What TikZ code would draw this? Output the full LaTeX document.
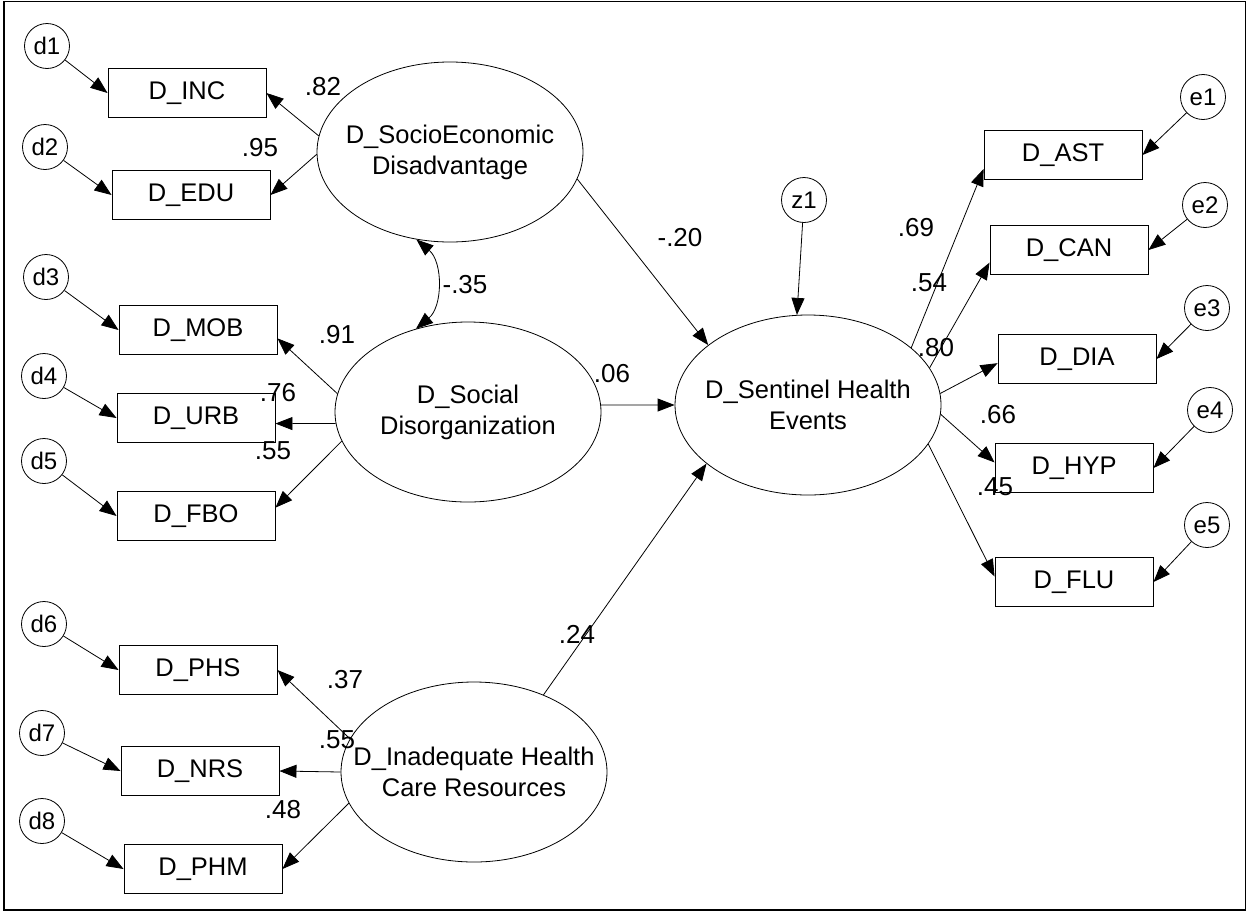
\documentclass[tikz,border=0pt]{standalone}
\usepackage{fontspec}
\setsansfont{Liberation Sans}
\usetikzlibrary{arrows.meta,shapes.geometric}
\begin{document}
\begin{tikzpicture}[
  x=1pt, y=-1pt,
  obs/.style={rectangle, draw, line width=0.9pt, minimum width=158pt, minimum height=49pt, inner sep=0pt},
  latent/.style={ellipse, draw, line width=0.8pt, minimum width=266pt, minimum height=180pt, inner sep=0pt},
  err/.style={circle, draw, line width=0.8pt, minimum size=45pt, inner sep=0pt, font=\sffamily\fontsize{24}{28}\selectfont},
  coef/.style={inner sep=0pt, font=\sffamily\fontsize{26}{30}\selectfont},
  link/.style={-{Triangle[length=17pt,width=13pt]}, line width=0.8pt},
  cov/.style={{Triangle[length=17pt,width=13pt]}-{Triangle[length=17pt,width=13pt]}, line width=0.8pt},
  font=\sffamily\fontsize{25.5}{31}\selectfont
]
\useasboundingbox (0,0) rectangle (1249,913);
\draw[line width=1.5pt] (4,1.5) rectangle (1245.5,910);

\node[latent] (socio) at (450,152) {};
\node[align=center] (sociotext) at (socio) {D\_SocioEconomic\\Disadvantage};
\node[latent] (social) at (468,412) {};
\node[align=center] (socialtext) at (social) {D\_Social\\Disorganization};
\node[latent] (inad) at (474,772) {};
\node[align=center] (inadtext) at (inad) {D\_Inadequate Health\\Care Resources};
\node[latent] (sent) at (808,405) {};
\node[align=center] (senttext) at (sent) {D\_Sentinel Health\\Events};

\node[obs] (inc) at (187,93) {D\_INC};
\node[obs] (edu) at (191,195) {D\_EDU};
\node[obs] (mob) at (198,330) {D\_MOB};
\node[obs] (urb) at (196,418) {D\_URB};
\node[obs] (fbo) at (196,516) {D\_FBO};
\node[obs] (phs) at (198,670) {D\_PHS};
\node[obs] (nrs) at (200,771) {D\_NRS};
\node[obs] (phm) at (203,869) {D\_PHM};

\node[obs] (ast) at (1063,155) {D\_AST};
\node[obs] (can) at (1069,250) {D\_CAN};
\node[obs] (dia) at (1077,359) {D\_DIA};
\node[obs] (hyp) at (1074,468) {D\_HYP};
\node[obs] (flu) at (1074,582) {D\_FLU};

\node[err] (d1) at (47,46) {d1};
\node[err] (d2) at (45,147) {d2};
\node[err] (d3) at (46,277) {d3};
\node[err] (d4) at (44,376) {d4};
\node[err] (d5) at (44,461) {d5};
\node[err] (d6) at (44,624) {d6};
\node[err] (d7) at (42,733) {d7};
\node[err] (d8) at (42,821) {d8};
\node[err] (e1) at (1203,97) {e1};
\node[err] (e2) at (1205,205) {e2};
\node[err] (e3) at (1207,308) {e3};
\node[err] (e4) at (1210,410) {e4};
\node[err] (e5) at (1207,525) {e5};
\node[err] (z1) at (804,200) {z1};

\draw[link] (d1) -- (inc.west);
\draw[link] (d2) -- (edu.west);
\draw[link] (d3) -- (mob.west);
\draw[link] (d4) -- (urb.west);
\draw[link] (d5) -- (fbo.west);
\draw[link] (d6) -- (phs.west);
\draw[link] (d7) -- (nrs.west);
\draw[link] (d8) -- (phm.west);
\draw[link] (e1) -- (ast.east);
\draw[link] (e2) -- (can.east);
\draw[link] (e3) -- (dia.east);
\draw[link] (e4) -- (hyp.east);
\draw[link] (e5) -- (flu.east);

\draw[link] (socio.173) -- (inc.east);
\draw[link] (socio.181) -- (edu.east);
\draw[link] (social.172) -- (mob.354);
\draw[link] (social.185) -- (urb.356);
\draw[link] (social.193) -- (fbo.6);
\draw[link] (inad.165) -- (phs.east);
\draw[link] (inad.180) -- (nrs.east);
\draw[link] (inad.194) -- (phm.east);

\draw[link] (socio.348) -- (sent.149);
\draw[link] (social.3) -- (sent.180);
\draw[link] (inad.48) -- (sent.210);
\draw[link] (z1) -- (sent.97);
\draw[cov] (socio.249) to[bend left=50] (social.122);

\draw[link] (sent.29) -- (ast.190);
\draw[link] (sent.17) -- (can.189);
\draw[link] (sent.5) -- (dia.183);
\draw[link] (sent.356) -- (hyp.176);
\draw[link] (sent.342) -- (flu.176);

\node[coef] (cinc) at (323,87) {.82};
\node[coef] (cedu) at (260,148) {.95};
\node[coef] (cmob) at (337,335) {.91};
\node[coef] (curb) at (278,393) {.76};
\node[coef] (cfbo) at (273,451) {.55};
\node[coef] (cphs) at (345,680) {.37};
\node[coef] (cnrs) at (337,740) {.55};
\node[coef] (cphm) at (283,810) {.48};
\node[coef] (ccov) at (465,285) {-.35};
\node[coef] (csocio) at (680,238) {-.20};
\node[coef] (csocial) at (612,374) {.06};
\node[coef] (cinad) at (577,634) {.24};
\node[coef] (cast) at (916,228) {.69};
\node[coef] (ccan) at (929,283) {.54};
\node[coef] (cdia) at (936,348) {.80};
\node[coef] (chyp) at (998,415) {.66};
\node[coef] (cflu) at (995,487) {.45};
\end{tikzpicture}
\end{document}
